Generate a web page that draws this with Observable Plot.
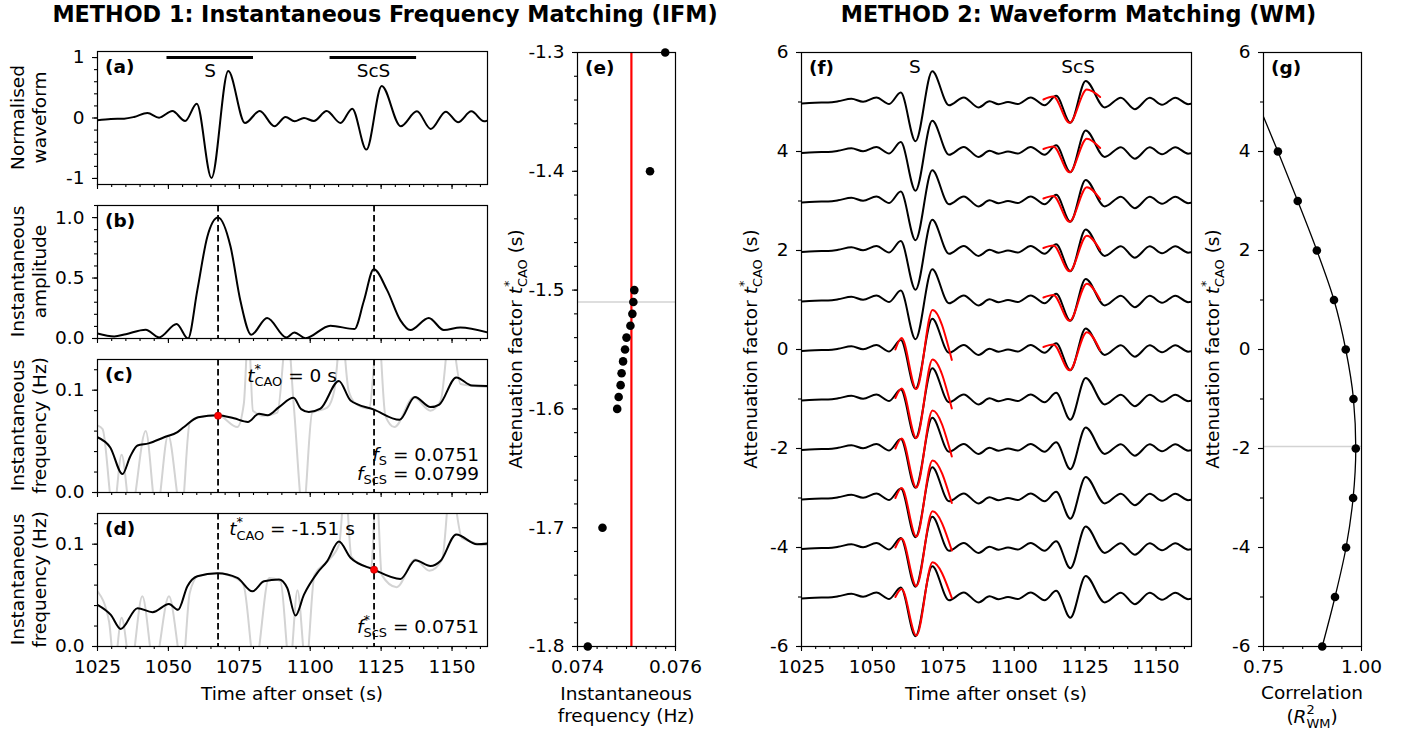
<!DOCTYPE html>
<html><head><meta charset="utf-8">
<script src="https://cdn.jsdelivr.net/npm/d3@7"></script>
<script src="https://cdn.jsdelivr.net/npm/@observablehq/plot@0.6"></script>
<style>
body{margin:0;background:#fff;}
#root{position:relative;width:1409px;height:733px;overflow:hidden;background:#fff;font-family:"DejaVu Sans",sans-serif;}
</style></head><body><div id="root"></div>
<script>
// ================= DATA =================
// time axis (s)
const timeTicks = [1025, 1050, 1075, 1100, 1125, 1150];
// (a) normalised waveform: read extrema
const waveT = [1025.0,1029.7,1034.4,1037.9,1042.6,1046.7,1051.4,1055.9,1060.0,1065.2,1071.1,1077.0,1082.2,1087.4,1091.3,1094.5,1097.8,1101.3,1105.8,1110.7,1114.8,1119.8,1125.2,1131.9,1137.6,1142.5,1147.8,1152.1,1156.8,1161.3,1162.7];
const waveV = [-0.038,-0.016,-0.011,0.017,0.083,0.006,0.116,-0.050,0.237,-0.991,0.777,-0.083,0.116,-0.137,0.017,-0.055,0.0,-0.050,0.116,-0.083,0.155,-0.523,0.530,-0.137,0.110,-0.181,0.105,-0.071,0.110,-0.055,-0.040];
const phaseNames = ["S", "ScS"];
const windowStart = [1049.5, 1107.0];
const windowEnd = [1080.0, 1137.5];
const phaseLabelT = [1064.7, 1122.3];
const pickT = [1067.5, 1122.5];
// (b) instantaneous amplitude
const envT = [1025,1030.9,1035,1042,1046.7,1052.9,1056.9,1060.2,1063.7,1067.5,1071.9,1075.4,1079.2,1084.8,1091.6,1094.4,1098.3,1107.1,1115.6,1118.9,1122.4,1127.1,1131.8,1135.3,1141.8,1147.1,1152.9,1162.5];
const envV = [0.042,0.017,0.036,0.072,0.009,0.120,0.0,0.40,0.84,1.0,0.76,0.31,0.031,0.170,0.009,0.050,0.003,0.106,0.078,0.31,0.572,0.40,0.15,0.070,0.170,0.070,0.092,0.050];
// (c) instantaneous frequency, t*=0 (smoothed black, raw grey)
const freqC_T = [1025,1029.5,1033.8,1036.5,1039.1,1043,1048.5,1053.2,1055.5,1060.5,1067.5,1073.1,1078,1081.9,1085,1089,1094.1,1096.8,1099.5,1103.6,1110.1,1114.2,1122.5,1131.5,1136.9,1142.4,1145.5,1151.5,1157,1162.5];
const freqC_V = [0.054,0.044,0.018,0.035,0.046,0.048,0.054,0.059,0.064,0.0735,0.0755,0.0725,0.069,0.077,0.0755,0.0834,0.0925,0.0815,0.0788,0.082,0.109,0.090,0.081,0.071,0.0933,0.0835,0.086,0.1125,0.1046,0.1042];
const rawC_T = [1025,1026.8,1030.6,1033.5,1036.7,1042,1045.8,1049.9,1054.6,1057.5,1060.5,1067.5,1074.3,1076.6,1078.2,1079.8,1083.7,1088.4,1091.9,1094.2,1097.5,1100.7,1106,1108.5,1111,1113.5,1116,1120.7,1124,1126.5,1129.7,1136.5,1142.4,1146,1149.4,1153,1162.5];
const rawC_V = [0.0655,0.062,-0.02,0.037,-0.02,0.060,-0.02,0.056,-0.02,0.068,0.0735,0.0755,0.064,0.087,0.16,0.080,0.075,0.078,0.16,0.085,-0.02,0.078,0.083,0.10,0.16,0.10,0.087,0.082,0.16,0.075,0.064,0.093,0.080,0.090,0.16,0.106,0.103];
// (d) instantaneous frequency, t*=-1.51
const freqD_T = [1025,1029.7,1033.2,1039.1,1044.4,1050.2,1053.4,1056.7,1060.2,1067.3,1074.3,1079.6,1083.7,1089,1091.9,1094.8,1097.8,1102.5,1106,1110.1,1114.2,1122.4,1131.8,1137.1,1142.4,1145.9,1151.5,1158.8,1162.5];
const freqD_V = [0.0408,0.0309,0.0171,0.0375,0.0336,0.0415,0.0359,0.059,0.0687,0.0717,0.0671,0.0539,0.0638,0.0655,0.0572,0.0302,0.0507,0.072,0.0835,0.1026,0.0868,0.0753,0.0661,0.0842,0.0786,0.0835,0.1095,0.100,0.1006];
const rawD_T = [1025,1029.1,1030.9,1033.5,1036.7,1040.8,1045,1050.2,1055,1057.5,1060.5,1067.3,1074.3,1076.5,1080.5,1085.5,1089.5,1092.8,1095.5,1098.5,1101.5,1106,1110.2,1112.3,1114.5,1118,1121.5,1123.3,1125.2,1130.5,1137,1142,1146.5,1149.5,1153.5,1162.5];
const rawD_V = [0.054,0.024,-0.02,0.028,-0.02,0.049,-0.02,0.049,-0.02,0.052,0.069,0.0717,0.066,0.060,-0.02,0.067,0.064,-0.02,0.055,-0.02,0.070,0.083,0.100,0.16,0.088,0.080,0.077,0.16,0.070,0.058,0.085,0.074,0.085,0.16,0.106,0.099];
const fS = 0.0751, fScS = 0.0799, fScSstar = 0.0751, tStarIFM = -1.51;
// (e) IFM search
const eTstar = [-1.30,-1.40,-1.50,-1.51,-1.52,-1.53,-1.54,-1.55,-1.56,-1.57,-1.58,-1.59,-1.60,-1.70,-1.80];
const eFreq  = [0.07579,0.07548,0.07516,0.07514,0.07512,0.07508,0.07500,0.07497,0.07493,0.07490,0.07488,0.07484,0.07481,0.07451,0.07421];
// (f) waveform matching traces
const fOffsets = [5,4,3,2,1,0,-1,-2,-3,-4,-5];
const traceScale = 0.8;
const redScSRows = [5,4,3,2,1,0];
const redScST = [1110.3,1113.8,1119.5,1125.6,1130.3];
const redScSV = [
  [0.05,0.11,-0.42,0.25,0.10],
  [0.05,0.10,-0.42,0.26,0.07],
  [0.05,0.10,-0.42,0.28,0.04],
  [0.05,0.10,-0.42,0.30,0.01],
  [0.05,0.10,-0.42,0.33,0.00],
  [0.05,0.10,-0.42,0.35,-0.02]];
const redSRows = [0,-1,-2,-3,-4,-5];
const redST = [1058.1,1060.3,1065.5,1071.2,1078.0];
const redSV = [
  [0.00,0.23,-0.80,0.80,-0.21],
  [0.02,0.21,-0.79,0.80,-0.19],
  [0.00,0.20,-0.79,0.77,-0.16],
  [0.00,0.20,-0.78,0.76,-0.10],
  [0.00,0.18,-0.78,0.73,-0.06],
  [0.00,0.16,-0.78,0.70,-0.02]];
const fLabelT = [1065, 1122.5];
// (g) correlation
const gTstar = [4,3,2,1,0,-1,-2,-3,-4,-5,-6];
const gR2 = [0.7868,0.8373,0.8861,0.9298,0.9598,0.9795,0.9854,0.9786,0.9606,0.9324,0.8998];
const gCurveTop = {t: 4.7, r: 0.75};
const tStarWM = -1.96;

// ================= HELPERS =================
const root = document.getElementById("root");
const FONT = "DejaVu Sans, sans-serif";
const FS = 18.5;
const fmtInt = d => (d < 0 ? "-" + Math.abs(d) : String(d));
const fmt1 = d => (d < 0 ? "-" + Math.abs(d).toFixed(1) : d.toFixed(1));
const rng = (a, b, s, dec) => d3.range(Math.round((b - a) / s) + 1).map(i => +(a + i * s).toFixed(dec));
const blank = () => "";

function makePanel(o) {
  const ml = 60, mr = 20, mt = 15, mb = 45;
  const svg = Plot.plot({
    width: o.w + ml + mr, height: o.h + mt + mb,
    marginLeft: ml, marginRight: mr, marginTop: mt, marginBottom: mb,
    x: {domain: o.xd, label: null},
    y: {domain: o.yd, label: null},
    style: {fontFamily: FONT, fontSize: FS + "px", background: "transparent", overflow: "visible", color: "black"},
    marks: [
      ...o.marks,
      Plot.axisX(o.xMin, {tickSize: 3, tickFormat: blank, strokeWidth: 1.1, label: null}),
      Plot.axisX(o.xMaj, {tickSize: 5, tickPadding: 8, tickFormat: o.xFmt || blank, strokeWidth: 1.1, label: null}),
      Plot.axisY(o.yMin, {tickSize: 3, tickFormat: blank, strokeWidth: 1.1, label: null}),
      Plot.axisY(o.yMaj, {tickSize: 5, tickPadding: 8, tickFormat: o.yFmt, strokeWidth: 1.1, label: null}),
      Plot.frame({stroke: "black", strokeWidth: 1.2})
    ]
  });
  svg.style.position = "absolute";
  svg.style.left = (o.left - ml) + "px";
  svg.style.top = (o.top - mt) + "px";
  root.appendChild(svg);
  return svg;
}
const pts = (T, V) => T.map((t, i) => ({t, v: V[i]}));
const timeMinor = rng(1025, 1160, 5, 0);
const L = 97, W = 390, H = 133;
const tops = [51, 205, 359, 513];
const dashOpts = {stroke: "black", strokeWidth: 1.8, strokeDasharray: "6.5,3.5"};

// (a)
makePanel({left: L, top: tops[0], w: W, h: H, xd: [1025, 1162.5], yd: [-1.1, 1.1],
  xMaj: timeTicks, xMin: timeMinor, yMaj: [-1, 0, 1], yMin: rng(-1, 1, 0.2, 1), yFmt: fmtInt,
  marks: [
    Plot.line(pts(waveT, waveV), {x: "t", y: "v", curve: "monotone-x", stroke: "black", strokeWidth: 2, clip: true}),
    Plot.ruleY(phaseNames.map((n, i) => ({s: windowStart[i], e: windowEnd[i]})), {y: () => 1, x1: "s", x2: "e", stroke: "black", strokeWidth: 3}),
    Plot.text(phaseNames, {x: (d, i) => phaseLabelT[i], y: () => 0.775, text: d => d, fontSize: FS, lineAnchor: "middle"})
  ]});
// (b)
makePanel({left: L, top: tops[1], w: W, h: H, xd: [1025, 1162.5], yd: [0, 1.1],
  xMaj: timeTicks, xMin: timeMinor, yMaj: [0, 0.5, 1.0], yMin: rng(0, 1.1, 0.1, 1), yFmt: fmt1,
  marks: [
    Plot.ruleX(pickT, dashOpts),
    Plot.line(pts(envT, envV), {x: "t", y: "v", curve: "monotone-x", stroke: "black", strokeWidth: 2, clip: true})
  ]});
// (c)
makePanel({left: L, top: tops[2], w: W, h: H, xd: [1025, 1162.5], yd: [0, 0.13],
  xMaj: timeTicks, xMin: timeMinor, yMaj: [0, 0.1], yMin: rng(0, 0.12, 0.02, 2), yFmt: fmt1,
  marks: [
    Plot.line(pts(rawC_T, rawC_V), {x: "t", y: "v", curve: "monotone-x", stroke: "#d3d3d3", strokeWidth: 2, clip: true}),
    Plot.ruleX(pickT, dashOpts),
    Plot.line(pts(freqC_T, freqC_V), {x: "t", y: "v", curve: "monotone-x", stroke: "black", strokeWidth: 2, clip: true}),
    Plot.dot([{t: pickT[0], v: fS}], {x: "t", y: "v", r: 3.6, fill: "red", stroke: "#b00000", strokeWidth: 0.6})
  ]});
// (d)
makePanel({left: L, top: tops[3], w: W, h: H, xd: [1025, 1162.5], yd: [0, 0.13],
  xMaj: timeTicks, xMin: timeMinor, yMaj: [0, 0.1], yMin: rng(0, 0.12, 0.02, 2), yFmt: fmt1, xFmt: d => String(d),
  marks: [
    Plot.line(pts(rawD_T, rawD_V), {x: "t", y: "v", curve: "monotone-x", stroke: "#d3d3d3", strokeWidth: 2, clip: true}),
    Plot.ruleX(pickT, dashOpts),
    Plot.line(pts(freqD_T, freqD_V), {x: "t", y: "v", curve: "monotone-x", stroke: "black", strokeWidth: 2, clip: true}),
    Plot.dot([{t: pickT[1], v: fScSstar}], {x: "t", y: "v", r: 3.6, fill: "red", stroke: "#b00000", strokeWidth: 0.6})
  ]});
// (e)
makePanel({left: 577, top: 52, w: 98, h: 594, xd: [0.074, 0.076], yd: [-1.8, -1.3],
  xMaj: [0.074, 0.076], xMin: rng(0.074, 0.076, 0.0002, 4), xFmt: d => d.toFixed(3),
  yMaj: rng(-1.8, -1.3, 0.1, 1), yMin: rng(-1.8, -1.3, 0.02, 2), yFmt: fmt1,
  marks: [
    Plot.ruleY([tStarIFM], {stroke: "#d3d3d3", strokeWidth: 1.6}),
    Plot.ruleX([fS], {stroke: "red", strokeWidth: 2.2}),
    Plot.dot(eTstar.map((t, i) => ({t, f: eFreq[i]})), {x: "f", y: "t", r: 4.3, fill: "black", stroke: "none"})
  ]});
// (f)
const fBlack = fOffsets.flatMap(o => waveT.map((t, i) => ({t, y: o + traceScale * waveV[i], o})));
const fRedScS = redScSRows.flatMap((o, r) => redScST.map((t, i) => ({t, y: o + redScSV[r][i], o})));
const fRedS = redSRows.flatMap((o, r) => redST.map((t, i) => ({t, y: o + redSV[r][i], o})));
makePanel({left: 801, top: 52, w: 390, h: 594, xd: [1025, 1162.5], yd: [-6, 6],
  xMaj: timeTicks, xMin: timeMinor, xFmt: d => String(d),
  yMaj: rng(-6, 6, 2, 0), yMin: rng(-6, 6, 1, 0), yFmt: fmtInt,
  marks: [
    Plot.line(fBlack, {x: "t", y: "y", z: "o", curve: "monotone-x", stroke: "black", strokeWidth: 2, clip: true}),
    Plot.line(fRedScS, {x: "t", y: "y", z: "o", curve: "monotone-x", stroke: "red", strokeWidth: 2, clip: true}),
    Plot.line(fRedS, {x: "t", y: "y", z: "o", curve: "monotone-x", stroke: "red", strokeWidth: 2, clip: true}),
    Plot.text(phaseNames, {x: (d, i) => fLabelT[i], y: () => 5.7, text: d => d, fontSize: FS, lineAnchor: "middle"})
  ]});
// (g)
const gCurve = [{t: gCurveTop.t, r: gCurveTop.r}, ...gTstar.map((t, i) => ({t, r: gR2[i]}))];
makePanel({left: 1263, top: 52, w: 98, h: 594, xd: [0.75, 1.0], yd: [-6, 6],
  xMaj: [0.75, 1.0], xMin: [0.80, 0.85, 0.90, 0.95], xFmt: d => d.toFixed(2),
  yMaj: rng(-6, 6, 2, 0), yMin: rng(-6, 6, 1, 0), yFmt: fmtInt,
  marks: [
    Plot.ruleY([tStarWM], {stroke: "#d3d3d3", strokeWidth: 1.6}),
    Plot.line(gCurve, {x: "r", y: "t", curve: "monotone-y", stroke: "black", strokeWidth: 1.3, clip: true}),
    Plot.dot(gTstar.map((t, i) => ({t, r: gR2[i]})), {x: "r", y: "t", r: 4.3, fill: "black", stroke: "none"})
  ]});

// ================= TEXT OVERLAY =================
const NS = "http://www.w3.org/2000/svg";
const overlay = document.createElementNS(NS, "svg");
overlay.setAttribute("width", 1409); overlay.setAttribute("height", 733);
overlay.style.cssText = "position:absolute;left:0;top:0;overflow:visible;pointer-events:none";
overlay.setAttribute("font-family", FONT);
overlay.setAttribute("font-size", FS);
root.appendChild(overlay);

function txt(x, y, segs, {anchor = "start", rotate = 0, size = FS, weight = null} = {}) {
  const t = document.createElementNS(NS, "text");
  t.setAttribute("transform", `translate(${x},${y})` + (rotate ? ` rotate(${rotate})` : ""));
  t.setAttribute("text-anchor", anchor);
  t.setAttribute("font-size", size);
  t.setAttribute("fill", "black");
  if (weight) t.setAttribute("font-weight", weight);
  if (typeof segs === "string") segs = [{t: segs}];
  for (const s of segs) {
    const sp = document.createElementNS(NS, "tspan");
    sp.textContent = s.t;
    if (s.italic) sp.setAttribute("font-style", "italic");
    if (s.size) sp.setAttribute("font-size", s.size);
    if (s.dx) sp.setAttribute("dx", s.dx);
    if (s.dy) sp.setAttribute("dy", s.dy);
    t.appendChild(sp);
  }
  t.setAttribute("xml:space", "preserve");
  overlay.appendChild(t);
  return t;
}
function supSub(base, sup, sub, rest, fs = FS, supW = 0.5, supK = 0.47) {
  const ss = fs * 0.7;
  const supDy = -fs * supK, subDy = fs * 0.26;
  const out = [{t: base, italic: true}];
  if (sup) out.push({t: sup, size: ss, dy: supDy});
  out.push({t: sub, size: ss, dx: sup ? -ss * supW : 0, dy: sup ? subDy - supDy : subDy});
  out.push({t: rest, dy: -subDy});
  return out;
}
const attLabel = [{t: "Attenuation factor "}, ...supSub("t", "*", "CAO", " (s)")];

// titles
txt(385, 21.5, "METHOD 1: Instantaneous Frequency Matching (IFM)", {anchor: "middle", size: 22.3, weight: "bold"});
txt(1078.5, 21.5, "METHOD 2: Waveform Matching (WM)", {anchor: "middle", size: 22.3, weight: "bold"});
// panel letters
[["(a)", L, tops[0]], ["(b)", L, tops[1]], ["(c)", L, tops[2]], ["(d)", L, tops[3]],
 ["(e)", 577, 52], ["(f)", 801, 52], ["(g)", 1263, 52]].forEach(([s, x, y]) => txt(x + 8, y + 22, s, {weight: "bold"}));
// left y labels
const leftLabels = [["Normalised", "waveform"], ["Instantaneous", "amplitude"], ["Instantaneous", "frequency (Hz)"], ["Instantaneous", "frequency (Hz)"]];
leftLabels.forEach(([a, b], i) => {
  const cy = tops[i] + H / 2;
  txt(23.5, cy, a, {anchor: "middle", rotate: -90});
  txt(45.5, cy, b, {anchor: "middle", rotate: -90});
});
// rotated attenuation labels
txt(522, 349, attLabel, {anchor: "middle", rotate: -90});
txt(757, 349, attLabel, {anchor: "middle", rotate: -90});
txt(1219, 349, attLabel, {anchor: "middle", rotate: -90});
// x labels
txt(292, 700, "Time after onset (s)", {anchor: "middle"});
txt(996, 700, "Time after onset (s)", {anchor: "middle"});
txt(626, 700, "Instantaneous", {anchor: "middle"});
txt(626, 721.5, "frequency (Hz)", {anchor: "middle"});
txt(1312, 698.5, "Correlation", {anchor: "middle"});
txt(1312, 723, [{t: "("}, ...supSub("R", "2", "WM", ")", FS, 0.636, 0.47)], {anchor: "middle"});
// annotations (c), (d)
txt(292, 381.5, supSub("t", "*", "CAO", " = 0 s"), {anchor: "middle"});
txt(479, 460.5, supSub("f", null, "S", " = " + fS.toFixed(4)), {anchor: "end"});
txt(479, 479.5, supSub("f", null, "ScS", " = " + fScS.toFixed(4)), {anchor: "end"});
txt(292, 535, supSub("t", "*", "CAO", " = -" + Math.abs(tStarIFM).toFixed(2) + " s"), {anchor: "middle"});
txt(479, 632.5, supSub("f", "*", "ScS", " = " + fScSstar.toFixed(4)), {anchor: "end"});
</script></body></html>
